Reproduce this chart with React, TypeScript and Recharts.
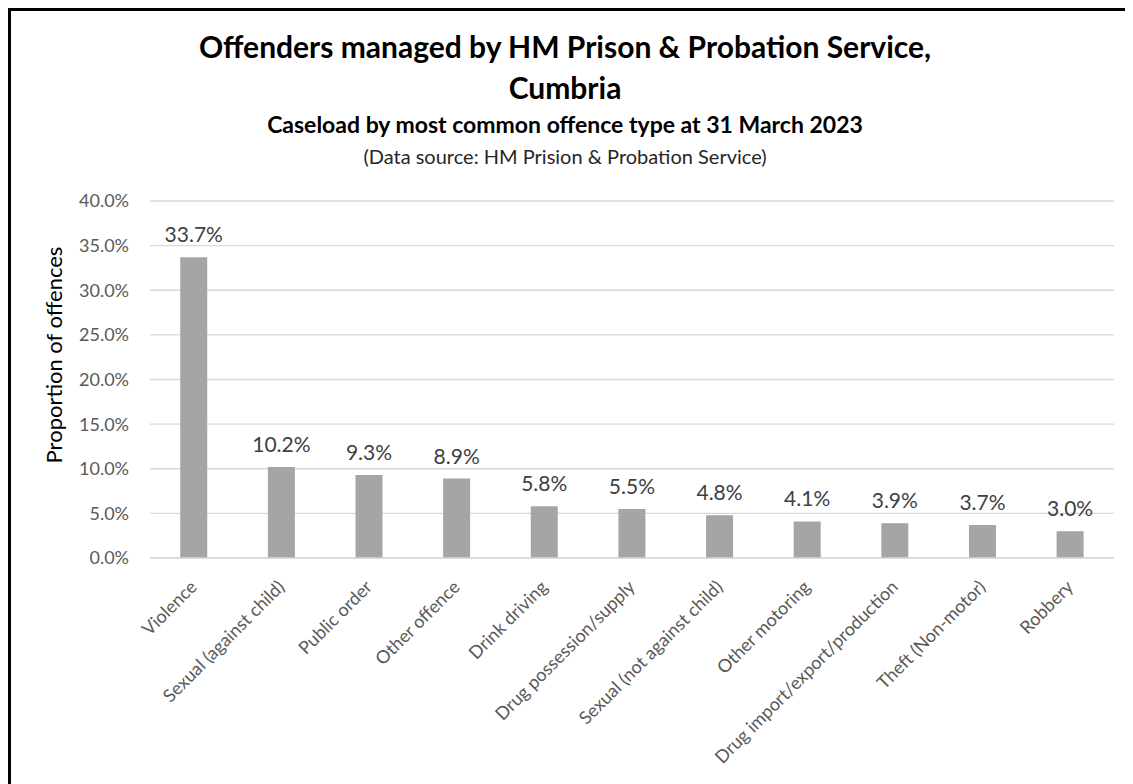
import { BarChart, Bar, CartesianGrid, XAxis, YAxis, LabelList } from 'recharts';

// Caseload share by offence type, Cumbria, 31 March 2023
const offenceTypes = [
  'Violence',
  'Sexual (against child)',
  'Public order',
  'Other offence',
  'Drink driving',
  'Drug possession/supply',
  'Sexual (not against child)',
  'Other motoring',
  'Drug import/export/production',
  'Theft (Non-motor)',
  'Robbery',
];
const shareOfOffences = [33.7, 10.2, 9.3, 8.9, 5.8, 5.5, 4.8, 4.1, 3.9, 3.7, 3.0];
const yTicks = [0, 5, 10, 15, 20, 25, 30, 35, 40];

const data = offenceTypes.map((name, i) => ({ name, share: shareOfOffences[i] }));

const FONT = 'Lato, "Open Sans", sans-serif';
const pct = (v: number) => `${Number(v).toFixed(1)}%`;

function XTick({ x, y, payload }: { x?: number; y?: number; payload?: { value: string } }) {
  return (
    <g transform={`translate(${(x ?? 0) - 5},${(y ?? 0) + 21})`}>
      <text
        x={0}
        y={0}
        dy="0.72em"
        textAnchor="end"
        transform="rotate(-45)"
        fill="#595959"
        fontSize={18}
        fontFamily={FONT}
      >
        {payload?.value}
      </text>
    </g>
  );
}

export default function App() {
  return (
    <div
      style={{
        position: 'relative',
        width: 1122,
        height: 773,
        borderTop: '3px solid #000',
        borderLeft: '3px solid #000',
        background: '#fff',
        fontFamily: FONT,
      }}
    >
      <div style={{ position: 'absolute', left: 0, width: 1108, top: 20, textAlign: 'center', fontSize: 30, lineHeight: 1, fontWeight: 700, color: '#000' }}>
        Offenders managed by HM Prison &amp; Probation Service,
      </div>
      <div style={{ position: 'absolute', left: 0, width: 1108, top: 61, textAlign: 'center', fontSize: 30, lineHeight: 1, fontWeight: 700, color: '#000' }}>
        Cumbria
      </div>
      <div style={{ position: 'absolute', left: 0, width: 1108, top: 102, textAlign: 'center', fontSize: 23, lineHeight: 1, fontWeight: 700, color: '#000' }}>
        Caseload by most common offence type at 31 March 2023
      </div>
      <div style={{ position: 'absolute', left: 0, width: 1108, top: 135, textAlign: 'center', fontSize: 20, lineHeight: 1, color: '#262626' }}>
        (Data source: HM Prision &amp; Probation Service)
      </div>
      <div
        style={{
          position: 'absolute', left: -107, top: 332, width: 300, height: 24, lineHeight: '24px',
          textAlign: 'center', fontSize: 22, color: '#000', transform: 'rotate(-90deg)',
        }}
      >
        Proportion of offences
      </div>
      <div style={{ position: 'absolute', left: 0, top: 0 }}>
        <BarChart
          width={1122}
          height={773}
          data={data}
          margin={{ top: 190, right: 19, bottom: 29, left: 79 }}
          barCategoryGap="34.5%"
        >
          <CartesianGrid stroke="#D9D9D9" strokeWidth={1.3} vertical={false} />
          <XAxis
            dataKey="name"
            interval={0}
            height={197}
            tickSize={0}
            tickMargin={0}
            axisLine={{ stroke: '#D9D9D9', strokeWidth: 1.3 }}
            tickLine={false}
            tick={<XTick />}
          />
          <YAxis
            width={60}
            domain={[0, 40]}
            ticks={yTicks}
            tickFormatter={pct}
            axisLine={false}
            tickLine={false}
            tickSize={0}
            tickMargin={21}
            tick={{ fontSize: 18, fill: '#595959', fontFamily: FONT }}
          />
          <Bar dataKey="share" fill="#A5A5A5" isAnimationActive={false}>
            <LabelList
              dataKey="share"
              position="top"
              offset={15}
              formatter={(v: any) => pct(v)}
              style={{ fontSize: 21, fill: '#404040', fontFamily: FONT }}
            />
          </Bar>
        </BarChart>
      </div>
    </div>
  );
}
